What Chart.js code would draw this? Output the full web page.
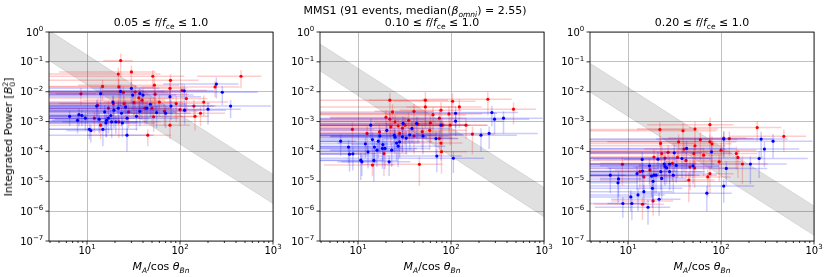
<!DOCTYPE html>
<html>
<head>
<meta charset="utf-8">
<script src="https://cdn.jsdelivr.net/npm/chart.js@4.4.1/dist/chart.umd.min.js"></script>
<style>
  body { margin: 0; background: #fff; width: 830px; height: 277px; position: relative; overflow: hidden;
         font-family: "DejaVu Sans", sans-serif; color: #000; }
  canvas { position: absolute; top: 0; }
  .t { position: absolute; font-size: 11px; line-height: 13px; white-space: nowrap; transform: translate(-50%, -50%); }
  .t sub, .t sup { font-size: 7.5px; line-height: 0; }
  .ylab { transform: translate(-50%, -50%) rotate(-90deg); }
  .stack { display: inline-block; vertical-align: -3px; font-size: 7.5px; line-height: 7px; text-align: left; }
</style>
</head>
<body>
<canvas id="c1" width="285" height="277" style="left:0px"></canvas>
<canvas id="c2" width="285" height="277" style="left:271px"></canvas>
<canvas id="c3" width="285" height="277" style="left:541px"></canvas>

<div class="t" style="left:415px;top:10px">MMS1 (91 events, median(<i>β</i><sub><i>omni</i></sub>) = 2.55)</div>
<div class="t" style="left:161px;top:22px">0.05 ≤ <i>f</i>/<i>f</i><sub>ce</sub> ≤ 1.0</div>
<div class="t" style="left:432px;top:22px">0.10 ≤ <i>f</i>/<i>f</i><sub>ce</sub> ≤ 1.0</div>
<div class="t" style="left:702px;top:22px">0.20 ≤ <i>f</i>/<i>f</i><sub>ce</sub> ≤ 1.0</div>
<div class="t ylab" style="left:9px;top:137px">Integrated Power [<i>B</i><span class="stack">2<br>0</span>]</div>
<div class="t" style="left:161px;top:266px"><i>M<sub>A</sub></i>/cos <i>θ<sub>Bn</sub></i></div>
<div class="t" style="left:432px;top:266px"><i>M<sub>A</sub></i>/cos <i>θ<sub>Bn</sub></i></div>
<div class="t" style="left:702px;top:266px"><i>M<sub>A</sub></i>/cos <i>θ<sub>Bn</sub></i></div>

<script>
// axis ticks (labels are 10 raised to the exponent)
const xMajorTicks = [10, 100, 1000];
const xTickExp = ['1', '2', '3'];
const xMinorTicks = [4, 5, 6, 7, 8, 9, 20, 30, 40, 50, 60, 70, 80, 90, 200, 300, 400, 500, 600, 700, 800, 900];
const yMajorTicks = [1e-7, 1e-6, 1e-5, 1e-4, 1e-3, 1e-2, 1e-1, 1];
const yTickExp = ['−7', '−6', '−5', '−4', '−3', '−2', '−1', '0'];

// grey band edges (value at left and right end of x range)
const bandX = [3.9, 1000];
const p1BandLo = [0.11, 1.8e-6];
const p1BandHi = [1.12, 1.7e-5];
const p2BandLo = [0.05, 6.5e-7];
const p2BandHi = [0.40, 6.2e-6];
const p3BandLo = [0.0098, 1.55e-7];
const p3BandHi = [0.09, 1.5e-6];

// events: [M_A/cos, power, x error, y error]
const p1Red = [
  [23, 0.11, 8, 0.08], [30, 0.046, 25, 0.03], [21.7, 0.039, 40, 0.025], [51, 0.033, 60, 0.02],
  [453, 0.033, 300, 0.02], [79, 0.024, 80, 0.015], [14.7, 0.015, 20, 0.01], [22, 0.0145, 30, 0.012],
  [53, 0.0166, 45, 0.012], [238, 0.0145, 200, 0.008], [24.6, 0.0095, 50, 0.006], [78, 0.013, 40, 0.009],
  [105, 0.011, 90, 0.008], [8.6, 0.0085, 4, 0.005], [54, 0.0083, 70, 0.006], [39, 0.0052, 30, 0.004],
  [32, 0.0043, 60, 0.003], [13, 0.0035, 15, 0.0025], [19.2, 0.004, 35, 0.003], [42, 0.0028, 80, 0.002],
  [50, 0.0028, 30, 0.002], [91, 0.004, 120, 0.003], [141, 0.0033, 100, 0.002], [166, 0.0019, 140, 0.0012],
  [145, 0.0015, 60, 0.001], [52, 0.00145, 100, 0.001], [45, 0.00035, 35, 0.0002], [78, 0.00076, 50, 0.0005],
  [22, 0.00098, 40, 0.0007], [14, 0.00076, 10, 0.0005], [117, 0.0059, 80, 0.004], [25, 0.004, 20, 0.003],
  [36, 0.0062, 50, 0.005], [68, 0.0022, 90, 0.0015], [180, 0.0045, 150, 0.003], [12, 0.0013, 20, 0.0009],
  [60, 0.0045, 45, 0.003], [28, 0.0021, 25, 0.0015], [100, 0.0025, 70, 0.0018], [33, 0.0098, 70, 0.007],
  [17, 0.0028, 25, 0.002]
];
const p1Blue = [
  [6.5, 0.0015, 3, 0.0008], [7.9, 0.0011, 6, 0.0007], [8.2, 0.0017, 5, 0.001], [8.8, 0.0016, 8, 0.0009],
  [10.6, 0.00055, 8, 0.0003], [11, 0.0005, 5, 0.0003], [12.7, 0.0033, 12, 0.002], [14, 0.0086, 10, 0.006],
  [14.8, 0.00055, 20, 0.0004], [15.5, 0.0021, 15, 0.0015], [16.2, 0.0011, 12, 0.0008], [17, 0.0013, 30, 0.0009],
  [18, 0.0016, 14, 0.001], [18.4, 0.00098, 25, 0.0007], [19.5, 0.0024, 40, 0.0018], [20.4, 0.00098, 15, 0.0006],
  [21.7, 0.0028, 20, 0.002], [22.9, 0.0102, 45, 0.007], [23.5, 0.0019, 60, 0.0012], [26.9, 0.00035, 25, 0.00025],
  [26, 0.0031, 35, 0.002], [30, 0.013, 30, 0.009], [31, 0.0077, 60, 0.005], [37, 0.0087, 40, 0.006],
  [40, 0.0077, 100, 0.005], [44, 0.0028, 50, 0.002], [37, 0.0022, 80, 0.0015], [70, 0.0019, 60, 0.0013],
  [78, 0.0068, 90, 0.004], [80, 0.0033, 150, 0.0022], [111, 0.0107, 120, 0.007], [112, 0.0024, 200, 0.0016],
  [200, 0.0026, 250, 0.0018], [246, 0.018, 180, 0.012], [285, 0.0096, 400, 0.006], [350, 0.0033, 600, 0.002],
  [34, 0.0015, 45, 0.001], [27, 0.0013, 70, 0.0009], [56, 0.002, 35, 0.0014], [16, 0.0009, 18, 0.0006],
  [48, 0.0038, 70, 0.0025], [19, 0.0045, 22, 0.003], [24, 0.0009, 30, 0.0006], [13.5, 0.0012, 9, 0.0008],
  [9.6, 0.0013, 15, 0.0008]
];
const p2Red = [
  [22, 0.0052, 35, 0.004], [53, 0.0052, 40, 0.0045], [104, 0.0048, 80, 0.004], [249, 0.0056, 200, 0.004],
  [53, 0.0031, 60, 0.0025], [78, 0.0024, 50, 0.002], [123, 0.0031, 90, 0.0025], [470, 0.0026, 350, 0.0018],
  [23.5, 0.0021, 40, 0.0017], [40, 0.0022, 25, 0.0017], [75, 0.0013, 70, 0.001], [22, 0.0012, 30, 0.0009],
  [25, 0.00098, 45, 0.0007], [8.7, 0.00055, 6, 0.0004], [22.5, 0.00066, 20, 0.0005], [27, 0.00072, 60, 0.0005],
  [30, 0.0006, 35, 0.0005], [32, 0.00076, 50, 0.0006], [59, 0.00051, 90, 0.0004], [81, 0.00076, 60, 0.0006],
  [98, 0.00076, 150, 0.0006], [145, 0.00076, 100, 0.0005], [170, 0.00038, 130, 0.0003], [40, 0.00033, 60, 0.00025],
  [49, 0.00046, 30, 0.00035], [75, 0.00027, 45, 0.0002], [78, 0.00019, 55, 0.00014], [19, 0.000085, 15, 0.00007],
  [14.3, 0.000035, 10, 0.00002], [45.7, 0.000037, 35, 0.00003], [79, 0.000098, 70, 0.00008], [35, 0.0011, 40, 0.0009],
  [64, 0.0017, 80, 0.0013], [17, 0.00045, 25, 0.00035], [20, 0.0014, 15, 0.001], [44, 0.0008, 100, 0.0006],
  [95, 0.0018, 120, 0.0014], [12.5, 0.0004, 20, 0.0003], [28, 0.0004, 45, 0.0003], [60, 0.0009, 45, 0.0007]
];
const p2Blue = [
  [6.5, 0.00022, 3, 0.00015], [7.9, 0.00014, 6, 0.0001], [8.1, 0.000081, 5, 0.00006], [8.8, 0.000083, 7, 0.00006],
  [10.7, 0.000051, 8, 0.00004], [11, 0.000045, 5, 0.00003], [12.8, 0.000097, 12, 0.00007], [13.7, 0.00076, 10, 0.0005],
  [14.3, 0.00025, 20, 0.0002], [15, 0.00014, 15, 0.0001], [16, 0.00011, 12, 0.00008], [16.5, 0.00022, 30, 0.00016],
  [17.2, 0.00033, 14, 0.00025], [18.3, 0.000126, 25, 0.0001], [19.5, 0.000126, 40, 0.0001], [20.4, 0.00051, 20, 0.0004],
  [21.6, 0.000045, 15, 0.00003], [24.5, 0.00035, 45, 0.00025], [27, 0.00015, 60, 0.00012], [30, 0.00031, 25, 0.00022],
  [30.5, 0.00087, 30, 0.0006], [38, 0.00059, 60, 0.0004], [42.6, 0.00087, 40, 0.0006], [36, 0.00036, 100, 0.00025],
  [69, 0.00027, 50, 0.0002], [78, 0.00076, 80, 0.0005], [70.4, 0.00007, 60, 0.00005], [106, 0.000059, 120, 0.00004],
  [112, 0.0019, 200, 0.0013], [112, 0.00103, 250, 0.0007], [210, 0.00035, 300, 0.00025], [257, 0.0004, 600, 0.00028],
  [275, 0.002, 250, 0.0013], [294, 0.0012, 400, 0.0008], [367, 0.0013, 600, 0.0009], [25, 0.0003, 30, 0.00022],
  [33, 0.00028, 70, 0.0002], [23, 0.00011, 18, 0.00008], [28, 0.00021, 35, 0.00015], [50, 0.00033, 45, 0.00025],
  [14.8, 0.00005, 12, 0.00004], [18.5, 0.00017, 10, 0.00012], [12, 0.00018, 9, 0.00012], [26, 0.00019, 20, 0.00014]
];
const p3Red = [
  [76, 0.00079, 60, 0.0006], [39, 0.00049, 50, 0.0004], [22, 0.00054, 20, 0.0004], [52.5, 0.00056, 40, 0.00045],
  [245, 0.00063, 200, 0.0004], [474, 0.00032, 350, 0.00022], [107, 0.00028, 80, 0.0002], [123, 0.00027, 100, 0.0002],
  [76, 0.00021, 70, 0.00016], [80, 0.00018, 50, 0.00014], [22.4, 0.000186, 30, 0.00014], [52.5, 0.000155, 60, 0.00012],
  [40, 0.00012, 25, 0.0001], [27, 0.000093, 45, 0.00007], [23, 0.000085, 20, 0.00007], [51, 0.000085, 80, 0.00007],
  [34, 0.000063, 30, 0.00005], [42, 0.00005, 60, 0.00004], [65, 0.000075, 45, 0.00006], [95.5, 0.000045, 70, 0.000035],
  [146, 0.000085, 100, 0.00006], [152, 0.000063, 130, 0.00005], [170, 0.000038, 150, 0.00003], [8.7, 0.000037, 6, 0.00003],
  [13.4, 0.000021, 15, 0.000016], [17.2, 0.000024, 10, 0.000018], [46.4, 0.00003, 35, 0.000025], [52, 0.000028, 100, 0.000022],
  [76, 0.000018, 60, 0.000014], [45, 0.000011, 40, 0.000009], [72, 0.000014, 55, 0.000011], [18.6, 0.0000022, 12, 0.0000015],
  [14.3, 0.0000017, 10, 0.0000012], [14.8, 0.000014, 20, 0.00001], [30, 0.00004, 25, 0.00003], [25, 0.00006, 50, 0.000045],
  [60, 0.00025, 90, 0.0002], [35, 0.00021, 40, 0.00016], [100, 0.00011, 140, 0.00008], [19, 0.000065, 15, 0.00005]
];
const p3Blue = [
  [6.45, 0.000016, 3, 0.000012], [7.9, 0.000012, 6, 0.000009], [7.8, 0.0000089, 5, 0.000007], [8.8, 0.0000018, 7, 0.0000012],
  [10.7, 0.000003, 8, 0.000002], [11, 0.0000018, 5, 0.0000013], [12.8, 0.0000035, 12, 0.0000025], [14.2, 0.000054, 10, 0.00004],
  [14.3, 0.000022, 20, 0.000017], [14.8, 0.0000045, 15, 0.000003], [16.4, 0.00000135, 12, 0.000001], [17, 0.000033, 30, 0.000025],
  [17.9, 0.000015, 14, 0.000012], [18.6, 0.00001, 25, 0.000008], [19, 0.000016, 40, 0.000012], [18.3, 0.0000058, 20, 0.0000045],
  [21.6, 0.0000025, 15, 0.0000018], [22.5, 0.000021, 45, 0.000016], [24.5, 0.000038, 60, 0.00003], [28, 0.000038, 25, 0.00003],
  [31.4, 0.00009, 30, 0.00007], [30.7, 0.000016, 60, 0.000012], [38, 0.000058, 40, 0.000045], [42.6, 0.000126, 100, 0.0001],
  [79, 0.000097, 80, 0.00007], [70.4, 0.000004, 60, 0.000003], [107, 0.0000069, 120, 0.000005], [114, 0.000027, 200, 0.00002],
  [107, 0.00026, 250, 0.0002], [207, 0.000038, 300, 0.00003], [257, 0.000058, 600, 0.000045], [270, 0.00026, 250, 0.0002],
  [293, 0.00012, 400, 0.00009], [363, 0.00022, 600, 0.00016], [20, 0.000016, 30, 0.000012], [25, 0.000031, 70, 0.000024],
  [23, 0.0000125, 18, 0.00001], [28, 0.000021, 35, 0.000016], [50, 0.000033, 45, 0.000025], [21, 0.000055, 12, 0.00004],
  [33, 0.000034, 20, 0.000025], [12.5, 0.000018, 9, 0.000013], [26, 0.000028, 20, 0.00002]
];

Chart.defaults.font.family = '"DejaVu Sans", sans-serif';
Chart.defaults.font.size = 10;
Chart.defaults.color = '#000';

// error bars drawn before each scatter dataset, clipped to the plot area
const errorBars = {
  id: 'errorBars',
  beforeDatasetDraw(chart, args) {
    const ds = chart.data.datasets[args.index];
    if (!ds.err) return;
    const xs = chart.scales.x, ys = chart.scales.y, ctx = chart.ctx, a = chart.chartArea;
    ctx.save();
    ctx.beginPath();
    ctx.rect(a.left, a.top, a.right - a.left, a.bottom - a.top);
    ctx.clip();
    ctx.strokeStyle = ds.errColor;
    ctx.lineWidth = 1.5;
    ds.err.forEach(([x, y, xe, ye]) => {
      const px = xs.getPixelForValue(x), py = ys.getPixelForValue(y);
      const x0 = xs.getPixelForValue(Math.max(x - xe, xs.min / 2));
      const x1 = xs.getPixelForValue(x + xe);
      const y0 = ys.getPixelForValue(Math.max(y - ye, ys.min / 10));
      const y1 = ys.getPixelForValue(y + ye);
      ctx.beginPath(); ctx.moveTo(x0, py); ctx.lineTo(x1, py); ctx.stroke();
      ctx.beginPath(); ctx.moveTo(px, y0); ctx.lineTo(px, y1); ctx.stroke();
    });
    ctx.restore();
  }
};

// "10" with a raised exponent, like matplotlib's log tick labels
function powLabel(ctx, exp, x, baseline, align) {
  ctx.font = '10px "DejaVu Sans"';
  const w1 = ctx.measureText('10').width;
  ctx.font = '7px "DejaVu Sans"';
  const w2 = ctx.measureText(exp).width;
  const left = align === 'right' ? x - w1 - w2 : x - (w1 + w2) / 2;
  ctx.textAlign = 'left';
  ctx.textBaseline = 'alphabetic';
  ctx.font = '10px "DejaVu Sans"';
  ctx.fillText('10', left, baseline);
  ctx.font = '7px "DejaVu Sans"';
  ctx.fillText(exp, left + w1, baseline - 4.6);
}

// black frame, outward tick marks and tick labels
const frame = {
  id: 'frame',
  afterDraw(chart) {
    const ctx = chart.ctx, a = chart.chartArea, xs = chart.scales.x, ys = chart.scales.y;
    ctx.save();
    ctx.strokeStyle = '#000';
    ctx.lineWidth = 0.8;
    ctx.strokeRect(a.left, a.top, a.right - a.left, a.bottom - a.top);
    ctx.beginPath();
    xMajorTicks.forEach(v => { const p = xs.getPixelForValue(v); ctx.moveTo(p, a.bottom); ctx.lineTo(p, a.bottom + 3.5); });
    xMinorTicks.forEach(v => { const p = xs.getPixelForValue(v); ctx.moveTo(p, a.bottom); ctx.lineTo(p, a.bottom + 2); });
    yMajorTicks.forEach(v => { const p = ys.getPixelForValue(v); ctx.moveTo(a.left, p); ctx.lineTo(a.left - 3.5, p); });
    ctx.stroke();
    ctx.fillStyle = '#000';
    xMajorTicks.forEach((v, i) => powLabel(ctx, xTickExp[i], xs.getPixelForValue(v), a.bottom + 12.6, 'center'));
    yMajorTicks.forEach((v, i) => powLabel(ctx, yTickExp[i], a.left - 5.7, ys.getPixelForValue(v) + 3.6, 'right'));
    ctx.restore();
  }
};

function makePanel(id, red, blue, bandLo, bandHi) {
  new Chart(document.getElementById(id), {
    type: 'scatter',
    data: {
      datasets: [
        {
          type: 'line', order: 10,
          data: bandX.map((x, i) => ({ x: x, y: bandLo[i] })),
          borderColor: 'rgba(0,0,0,0.18)', borderWidth: 0.6, pointRadius: 0, fill: false
        },
        {
          type: 'line', order: 9,
          data: bandX.map((x, i) => ({ x: x, y: bandHi[i] })),
          borderColor: 'rgba(0,0,0,0.18)', borderWidth: 0.6, pointRadius: 0,
          fill: '-1', backgroundColor: 'rgba(0,0,0,0.12)'
        },
        {
          order: 2,
          data: red.map(r => ({ x: r[0], y: r[1] })),
          err: red, errColor: 'rgba(255,0,0,0.2)',
          backgroundColor: '#ff0000', pointRadius: 1.6, pointBorderWidth: 0
        },
        {
          order: 1,
          data: blue.map(r => ({ x: r[0], y: r[1] })),
          err: blue, errColor: 'rgba(0,0,255,0.2)',
          backgroundColor: '#0000ff', pointRadius: 1.6, pointBorderWidth: 0
        }
      ]
    },
    options: {
      responsive: false,
      animation: false,
      events: [],
      layout: { padding: { top: 32, right: 12, left: 0, bottom: 0 } },
      plugins: { legend: { display: false }, tooltip: { enabled: false } },
      scales: {
        x: {
          type: 'logarithmic', min: 3.9, max: 1000,
          afterBuildTicks: s => { s.ticks = xMajorTicks.map(v => ({ value: v })); },
          afterFit: s => { s.height = 36; },
          ticks: { display: false },
          grid: { color: '#b0b0b0', lineWidth: 0.8, drawTicks: false },
          border: { display: false }
        },
        y: {
          type: 'logarithmic', min: 1e-7, max: 1,
          afterBuildTicks: s => { s.ticks = yMajorTicks.map(v => ({ value: v })); },
          afterFit: s => { s.width = 49; },
          ticks: { display: false },
          grid: { color: '#b0b0b0', lineWidth: 0.8, drawTicks: false },
          border: { display: false }
        }
      }
    },
    plugins: [errorBars, frame]
  });
}

makePanel('c1', p1Red, p1Blue, p1BandLo, p1BandHi);
makePanel('c2', p2Red, p2Blue, p2BandLo, p2BandHi);
makePanel('c3', p3Red, p3Blue, p3BandLo, p3BandHi);
</script>
</body>
</html>
